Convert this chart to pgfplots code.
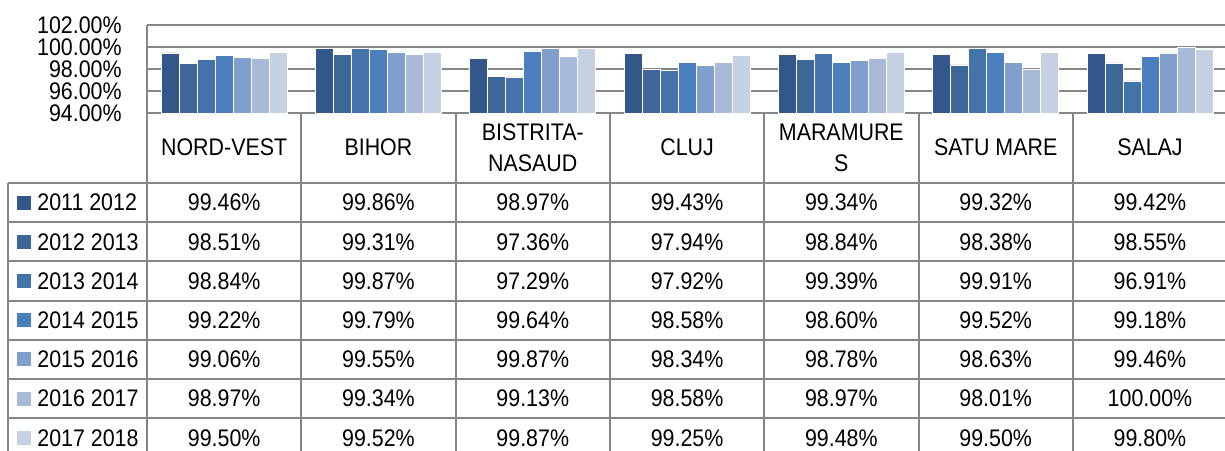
\documentclass[border=0pt]{standalone}
\usepackage{pgfplots}
\usepackage{pgfplotstable}
\pgfplotsset{compat=1.18}
\usepackage{fontspec}
\setmainfont{Liberation Sans}
\pgfkeys{/pgf/number format/assume math mode=true}
\definecolor{c1}{RGB}{51,87,138}
\definecolor{c2}{RGB}{61,102,153}
\definecolor{c3}{RGB}{68,114,171}
\definecolor{c4}{RGB}{76,127,190}
\definecolor{c5}{RGB}{129,159,204}
\definecolor{c6}{RGB}{169,185,216}
\definecolor{c7}{RGB}{197,208,227}
\definecolor{gridgray}{RGB}{134,134,134}
\newcommand{\st}[1]{\scalebox{1}[1.12]{#1}}

\pgfplotstableread{
idx s1 s2 s3 s4 s5 s6 s7
0 99.46 98.51 98.84 99.22 99.06 98.97 99.50
1 99.86 99.31 99.87 99.79 99.55 99.34 99.52
2 98.97 97.36 97.29 99.64 99.87 99.13 99.87
3 99.43 97.94 97.92 98.58 98.34 98.58 99.25
4 99.34 98.84 99.39 98.60 98.78 98.97 99.48
5 99.32 98.38 99.91 99.52 98.63 98.01 99.50
6 99.42 98.55 96.91 99.18 99.46 100.00 99.80
}\datatable

\begin{document}
\begin{tikzpicture}[font=\fontsize{10.7}{12}\selectfont]
\clip (0pt,0pt) rectangle (612.5pt,-225pt);
\begin{axis}[
  at={(73.5pt,-56.5pt)}, anchor=south west,
  scale only axis, width=539pt, height=44pt,
  xmin=-0.5, xmax=6.486,
  ymin=94, ymax=102,
  ytick={94,96,98,100,102},
  xtick=\empty,
  ymajorgrids, grid style={draw=gridgray, line width=1pt},
  axis line style={draw=none},
  major tick length=0pt,
  ybar=0pt, bar width=9pt,
  yticklabel={\st{\pgfmathprintnumber[fixed,fixed zerofill,precision=2]{\tick}\%}},
  yticklabel style={font=\fontsize{10.7}{12}\selectfont, inner xsep=0pt, inner ysep=0pt, xshift=-12.5pt},
  every axis plot/.append style={draw=white, line width=0.3pt},
]
\addplot[fill=c1] table[x=idx,y=s1]{\datatable};
\addplot[fill=c2] table[x=idx,y=s2]{\datatable};
\addplot[fill=c3] table[x=idx,y=s3]{\datatable};
\addplot[fill=c4] table[x=idx,y=s4]{\datatable};
\addplot[fill=c5] table[x=idx,y=s5]{\datatable};
\addplot[fill=c6] table[x=idx,y=s6]{\datatable};
\addplot[fill=c7] table[x=idx,y=s7]{\datatable};
\end{axis}
\begin{scope}[x=0.5pt,y=-0.5pt, gl/.style={draw=gridgray, line width=1pt}]
 \draw[gl] (147,25) -- (147,460);
 \foreach \k in {1,...,6} \draw[gl] ({147+154.3*\k},113) -- ({147+154.3*\k},460);
 \draw[gl] (8,183) -- (8,460);
 \foreach \r in {0,...,7} \draw[gl] (8,{183+39.2*\r}) -- (1225,{183+39.2*\r});
 \foreach \lab [count=\k from 0] in {NORD-VEST,BIHOR,{BISTRITA-\\NASAUD},CLUJ,{MARAMURE\\S},SATU MARE,SALAJ}
   \node[inner sep=0pt, font=\fontsize{10.7}{13.8}\selectfont] at ({147+154.3*(\k+0.5)},149.5)
     {\st{\begin{tabular}{@{}c@{}}\lab\end{tabular}}};
 \foreach \i in {1,...,7} {
   \pgfmathtruncatemacro{\ya}{2010+\i}
   \pgfmathtruncatemacro{\yb}{2011+\i}
   \pgfmathsetmacro{\yc}{183+39.2*(\i-1)+19.6}
   \fill[c\i] (17,\yc-7) rectangle (31,\yc+7);
   \node[anchor=west, inner sep=0pt] at (37,\yc) {\st{\ya\ \yb}};
   \foreach \k in {0,...,6} {
     \pgfplotstablegetelem{\k}{s\i}\of\datatable
     \node[inner sep=0pt] at ({147+154.3*(\k+0.5)},\yc) {\st{\pgfmathprintnumber[fixed,fixed zerofill,precision=2]{\pgfplotsretval}\%}};
   }
 }
\end{scope}
\end{tikzpicture}
\end{document}
